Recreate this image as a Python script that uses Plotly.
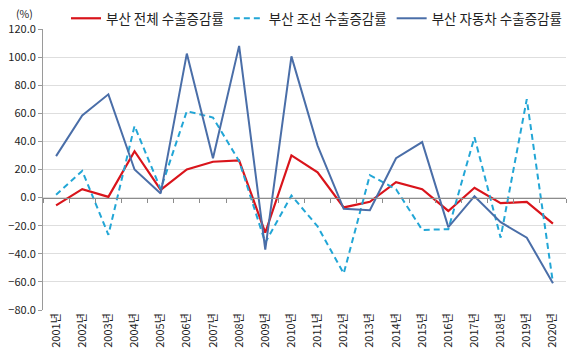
import plotly.graph_objects as go

years = [f"{y}년" for y in range(2001, 2021)]
total = [-5.5, 6, 0.5, 33, 5.5, 20, 25.5, 26.5, -25, 30, 18, -7, -3, 11, 6, -9.5, 7, -4, -3, -18.5]
ship = [2, 19, -26.5, 51, 6, 61.5, 57, 26, -32, 1.5, -20.5, -54, 16, 6, -23, -22.5, 43, -28.5, 70, -60.5]
auto = [29.5, 58.5, 73.5, 20, 3, 102.5, 28, 108, -37, 100.5, 37, -8, -9, 28, 39.5, -21, 1, -17.5, -28.5, -61]

font_name = "Noto Sans CJK KR"

fig = go.Figure()
fig.add_trace(go.Scatter(x=years, y=total, mode="lines", name="부산 전체 수출증감률",
                         line=dict(color="#d9141b", width=2.2)))
fig.add_trace(go.Scatter(x=years, y=ship, mode="lines", name="부산 조선 수출증감률",
                         line=dict(color="#22a6d6", width=2, dash="6px,4px")))
fig.add_trace(go.Scatter(x=years, y=auto, mode="lines", name="부산 자동차 수출증감률",
                         line=dict(color="#4a6ea8", width=2)))
# invisible trace for zero-line axis with category boundary ticks
fig.add_trace(go.Scatter(x=years, y=[0] * len(years), xaxis="x2", mode="lines",
                         line=dict(width=0), hoverinfo="skip", showlegend=False))

xr = [-0.5, len(years) - 0.5]

fig.update_layout(
    width=580, height=360,
    margin=dict(l=43, r=14, t=29, b=50, autoexpand=False),
    paper_bgcolor="white", plot_bgcolor="white",
    font=dict(family=font_name, size=11, color="#222222"),
    showlegend=True,
    legend=dict(orientation="h", xref="container", yref="container",
                x=66 / 580, y=1 - 3 / 360, xanchor="left", yanchor="top",
                font=dict(size=13.5, color="#222222"), bgcolor="rgba(0,0,0,0)",
                itemwidth=30, tracegroupgap=0),
    xaxis=dict(type="category", range=xr, showgrid=False, showline=False, ticks="",
               tickangle=-90, tickfont=dict(size=11), zeroline=False, automargin=False),
    xaxis2=dict(type="category", range=xr, overlaying="x", anchor="free", position=0.4,
                showline=True, linecolor="#8c8c8c", linewidth=1, ticks="outside",
                tickson="boundaries", ticklen=4, tickcolor="#8c8c8c",
                showticklabels=False, showgrid=False, zeroline=False),
    yaxis=dict(range=[-80, 120], dtick=20, tickformat=".1f", showgrid=True,
               gridcolor="#dedede", gridwidth=1, zeroline=False,
               showline=True, linecolor="#9a9a9a", linewidth=1,
               ticks="outside", ticklen=4, tickcolor="#9a9a9a",
               tickfont=dict(size=11), automargin=False),
    annotations=[dict(text="(%)", xref="paper", yref="paper", x=-0.035, y=1.055,
                      xanchor="center", yanchor="middle", showarrow=False,
                      font=dict(size=10.5, color="#222222"))],
)

fig.write_html("out.html", config={"displayModeBar": False},
               post_script="document.body.style.margin='0px';")
